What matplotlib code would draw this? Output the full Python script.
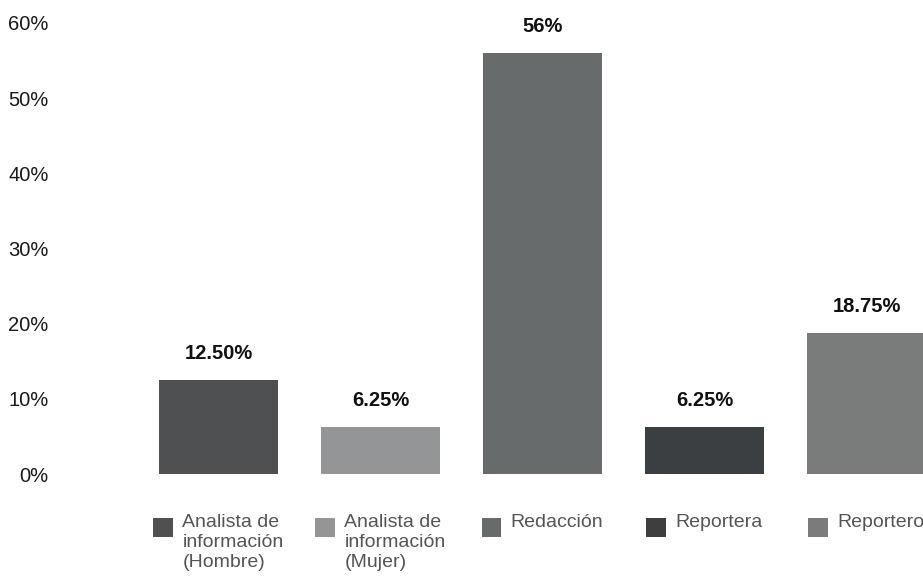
import matplotlib
matplotlib.use("Agg")
import matplotlib.pyplot as plt
from matplotlib.offsetbox import HPacker, TextArea, DrawingArea, AnnotationBbox
from matplotlib.patches import Rectangle

categories = ["Analista de\ninformación\n(Hombre)", "Analista de\ninformación\n(Mujer)",
              "Redacción", "Reportera", "Reportero"]
values = [12.5, 6.25, 56, 6.25, 18.75]
value_labels = ["12.50%", "6.25%", "56%", "6.25%", "18.75%"]
colors = ["#4f5052", "#939596", "#686b6b", "#3c3f42", "#7a7c7c"]
yticks = [0, 10, 20, 30, 40, 50, 60]
ytick_labels = ["0%", "10%", "20%", "30%", "40%", "50%", "60%"]

plt.rcParams["font.family"] = ["Liberation Sans", "DejaVu Sans"]

fig = plt.figure(figsize=(9.23, 5.87), dpi=100)
ax = fig.add_axes([100 / 923, 113 / 587, 823 / 923, 451 / 587])
x = list(range(len(values)))
ax.bar(x, values, width=0.735, color=colors)
ax.set_xlim(-0.731, 4.349)
ax.set_ylim(0, 60)
for s in ax.spines.values():
    s.set_visible(False)
ax.set_xticks([])
ax.set_yticks(yticks)
ax.set_yticklabels(ytick_labels, fontsize=14.5, color="#1a1a1a")
ax.tick_params(axis="y", length=0, pad=37)

for xi, v, lab in zip(x, values, value_labels):
    ax.annotate(lab, (xi, v), xytext=(0, 12), textcoords="offset points",
                ha="center", va="bottom", fontsize=14.5, fontweight="bold", color="#111111",
                annotation_clip=False)

for xi, cat, c in zip(x, categories, colors):
    da = DrawingArea(14, 17, 0, 0)
    da.add_artist(Rectangle((0, 0), 14, 14, facecolor=c, edgecolor="none"))
    ta = TextArea(cat, textprops=dict(fontsize=14, color="#555555", linespacing=1.25))
    pack = HPacker(children=[da, ta], align="top", pad=0, sep=7)
    ab = AnnotationBbox(pack, (xi, -0.088), xycoords=("data", "axes fraction"),
                        box_alignment=(0.5, 1.0), frameon=False, annotation_clip=False)
    ax.add_artist(ab)

fig.savefig("out.png", dpi=100)
